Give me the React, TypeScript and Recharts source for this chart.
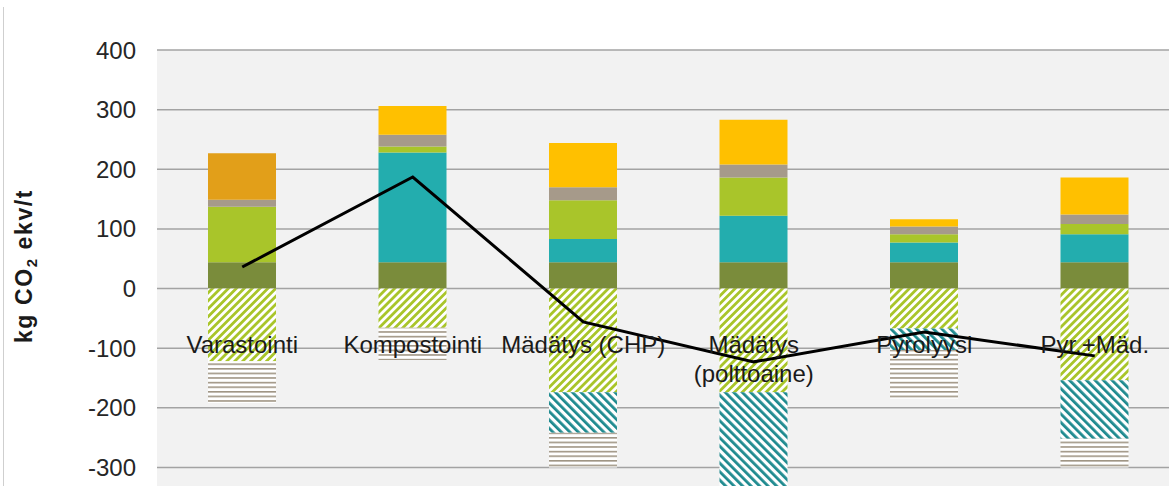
import { ComposedChart, Bar, Line, XAxis, YAxis, CartesianGrid } from 'recharts'

// Category names (line break splits the long label in two)
const CATEGORIES = [
  'Varastointi',
  'Kompostointi',
  'Mädätys (CHP)',
  'Mädätys\n(polttoaine)',
  'Pyrolyysi',
  'Pyr.+Mäd.',
]

// Emission components, stacked upwards from zero
const OLIVE = [44, 44, 44, 44, 44, 44]
const TEAL = [0, 184, 39, 78, 33, 47]
const LIME = [93, 10, 65, 64, 14, 17]
const TAUPE = [12, 20, 22, 22, 13, 16]
const YELLOW = [0, 48, 74, 75, 12, 62]
const ORANGE = [78, 0, 0, 0, 0, 0]

// Avoided emissions, stacked downwards from zero
const LIME_CREDIT = [-122, -66, -174, -174, -67, -154]
const TEAL_CREDIT = [0, 0, -68, -231, -36, -98]
const TAUPE_CREDIT = [-70, -54, -58, 0, -82, -48]

// Net result line
const NET = [36, 187, -56, -123, -73, -113]

const Y_TICKS = [-300, -200, -100, 0, 100, 200, 300, 400]

const data = CATEGORIES.map((name, i) => ({
  name,
  olive: OLIVE[i],
  teal: TEAL[i],
  lime: LIME[i],
  taupe: TAUPE[i],
  yellow: YELLOW[i],
  orange: ORANGE[i],
  limeCredit: LIME_CREDIT[i],
  tealCredit: TEAL_CREDIT[i],
  taupeCredit: TAUPE_CREDIT[i],
  net: NET[i],
}))

const FONT = '"Liberation Sans", Arial, sans-serif'
const LABEL_Y = 353

function CategoryTick(props: any) {
  const { x, payload } = props
  const lines = String(payload.value).split('\n')
  return (
    <text x={x} y={LABEL_Y} textAnchor="middle" fontSize={24} fill="#1a1a1a" fontFamily={FONT}>
      {lines.map((line, i) => (
        <tspan key={i} x={x} dy={i === 0 ? 0 : 29}>
          {line}
        </tspan>
      ))}
    </text>
  )
}

export default function App() {
  return (
    <div
      style={{
        position: 'fixed',
        left: 0,
        top: 0,
        width: 1169,
        height: 486,
        overflow: 'hidden',
        background: '#fff',
        fontFamily: FONT,
      }}
    >
      <svg width={0} height={0} style={{ position: 'absolute' }}>
        <defs>
          <pattern id="limeHatch" patternUnits="userSpaceOnUse" width={5.6} height={5.6} patternTransform="rotate(45)">
            <rect width={5.6} height={5.6} fill="#fff" />
            <rect width={2.8} height={5.6} fill="#a9c52a" />
          </pattern>
          <pattern id="tealHatch" patternUnits="userSpaceOnUse" width={6} height={6} patternTransform="rotate(-45)">
            <rect width={6} height={6} fill="#fff" />
            <rect width={2.8} height={6} fill="#1e8a8f" />
          </pattern>
          <pattern id="taupeLines" patternUnits="userSpaceOnUse" width={8} height={4.6}>
            <rect width={8} height={4.6} fill="#fff" />
            <rect width={8} height={1.6} fill="#9f9584" />
          </pattern>
        </defs>
      </svg>

      <div style={{ position: 'absolute', left: 3, top: 7, bottom: 0, width: 1, background: '#cfcfcf' }} />

      <div style={{ position: 'absolute', left: 0, top: 0 }}>
        <ComposedChart
          width={1200}
          height={560}
          data={data}
          stackOffset="sign"
          barSize={68}
          margin={{ top: 50, right: 20, bottom: 0, left: 0 }}
        >
          <CartesianGrid vertical={false} stroke="#a3a3a3" strokeWidth={1.5} fill="#f2f2f2" fillOpacity={1} />
          <YAxis
            type="number"
            domain={[-400, 400]}
            ticks={Y_TICKS}
            width={157}
            axisLine={false}
            tickLine={false}
            tickSize={0}
            tickMargin={21}
            tick={{ fontSize: 24, fill: '#262626', fontFamily: FONT }}
          />
          <Bar dataKey="olive" stackId="a" fill="#7a8c3b" isAnimationActive={false} />
          <Bar dataKey="teal" stackId="a" fill="#23adae" isAnimationActive={false} />
          <Bar dataKey="lime" stackId="a" fill="#a9c52a" isAnimationActive={false} />
          <Bar dataKey="taupe" stackId="a" fill="#a69a8a" isAnimationActive={false} />
          <Bar dataKey="yellow" stackId="a" fill="#ffc000" isAnimationActive={false} />
          <Bar dataKey="orange" stackId="a" fill="#e29f19" isAnimationActive={false} />
          <Bar dataKey="limeCredit" stackId="a" fill="url(#limeHatch)" isAnimationActive={false} />
          <Bar dataKey="tealCredit" stackId="a" fill="url(#tealHatch)" isAnimationActive={false} />
          <Bar dataKey="taupeCredit" stackId="a" fill="url(#taupeLines)" isAnimationActive={false} />
          <XAxis
            dataKey="name"
            interval={0}
            axisLine={false}
            tickLine={false}
            tick={<CategoryTick />}
          />
          <Line
            dataKey="net"
            type="linear"
            stroke="#000"
            strokeWidth={3}
            dot={false}
            activeDot={false}
            isAnimationActive={false}
          />
        </ComposedChart>
      </div>

      <svg width={60} height={486} style={{ position: 'absolute', left: 0, top: 0 }}>
        <text
          transform="translate(32,266) rotate(-90)"
          textAnchor="middle"
          fontWeight="bold"
          fontSize={23}
          letterSpacing={1.6}
          fill="#1a1a1a"
          fontFamily={FONT}
        >
          kg CO
          <tspan fontSize={15} dy={5}>
            2
          </tspan>
          <tspan dy={-5}> ekv/t</tspan>
        </text>
      </svg>
    </div>
  )
}
